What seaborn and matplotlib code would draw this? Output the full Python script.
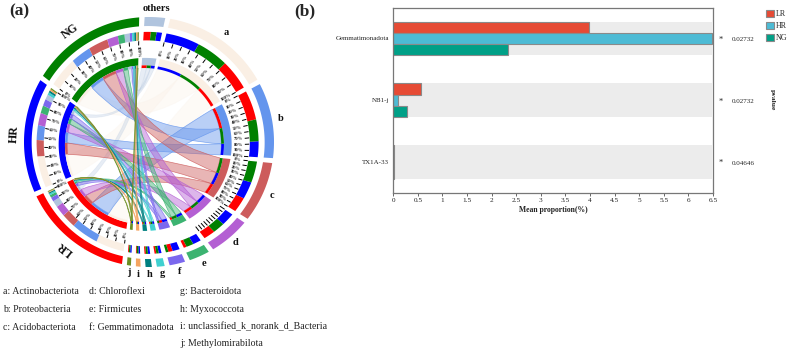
import numpy as np
import pandas as pd
import matplotlib
matplotlib.use("Agg")
import matplotlib.pyplot as plt
from matplotlib.path import Path
from matplotlib.patches import PathPatch
import seaborn as sns

# ---- data: chord panel (percent of each group) ----
phyla = ["others", "a", "b", "c", "d", "e", "f", "g", "h", "i", "j"]
lr_share = [6.5, 28.0, 27.0, 14.0, 10.5, 2.7, 3.97, 1.6, 1.3, 0.8, 0.8]
hr_share = [5.0, 31.0, 14.6, 16.0, 12.0, 7.5, 6.47, 2.5, 2.0, 1.5, 1.3]
ng_share = [5.2, 29.5, 20.0, 19.6, 10.8, 6.5, 2.33, 2.2, 1.8, 1.5, 1.2]
groups = ["LR", "HR", "NG"]
phylum_colors = ["#B0C4DE", "#FAEFE4", "#6495ED", "#CD5C5C", "#B45FD3", "#3CB371",
                 "#7B68EE", "#40D0D0", "#008080", "#F4A460", "#6B8E23"]
group_colors = ["#FF0000", "#0000FF", "#008000"]
legend_col1 = ["a: Actinobacteriota", "b: Proteobacteria", "c: Acidobacteriota"]
legend_col2 = ["d: Chloroflexi", "e: Firmicutes", "f: Gemmatimonadota"]
legend_col3 = ["g: Bacteroidota", "h: Myxococcota", "i: unclassified_k_norank_d_Bacteria",
               "j: Methylomirabilota"]
tick_labels = ["0%", "10%", "20%", "30%", "40%", "50%", "60%", "70%", "80%", "90%", "100%"]

# ---- data: bar panel ----
taxa = ["Gemmatimonadota", "NB1-j", "TX1A-33"]
lr_mean = [3.97, 0.56, 0.01]
hr_mean = [6.47, 0.10, 0.01]
ng_mean = [2.33, 0.27, 0.01]
pvalues = ["0.02732", "0.02732", "0.04646"]
bar_colors = ["#E64B35", "#4DBBD5", "#00A087"]

sns.set_theme(style="white")
plt.rcParams["font.family"] = ["Liberation Serif", "DejaVu Serif"]
fig = plt.figure(figsize=(7.87, 3.52), dpi=100)
W, H = 787, 352

# ---- chord panel ----
ax = fig.add_axes([0, 0, 1, 1])
ax.set_xlim(0, W); ax.set_ylim(H, 0); ax.axis("off")
GAP = 2.3
M = np.array([lr_share, hr_share, ng_share]).T  # rows phyla, columns groups


def xy(theta, r):
    # rings of the reference are not quite concentric: inner ones sit lower-left
    t = np.radians(theta)
    cx = 149.0 - 0.10 * (125.0 - r)
    cy = 142.0 + 0.0625 * (125.0 - r)
    return cx + r * np.sin(t), cy - r * np.cos(t)


def wedge(t0, t1, r0, r1, color, z=3):
    ts = np.linspace(t0, t1, max(int(abs(t1 - t0) * 2), 3))
    xo, yo = xy(ts, r1)
    xi, yi = xy(ts[::-1], r0)
    ax.fill(np.r_[xo, xi], np.r_[yo, yi], color=color, lw=0, zorder=z)


def layout(totals, start, end):
    k = (end - start - GAP * (len(totals) - 1)) / np.sum(totals)
    spans, t = [], start
    for v in totals:
        spans.append((t, t + v * k))
        t += v * k + GAP
    return spans, k


phylum_spans, kp = layout(M.sum(axis=1), -2.0, 190.2)
group_spans, kg = layout(M.sum(axis=0), 192.5, 355.5)

phylum_seg = {}
for i in range(len(phyla)):
    t = phylum_spans[i][0]
    for j in np.argsort(-M[i]):
        phylum_seg[(i, j)] = (t, t + M[i, j] * kp)
        t += M[i, j] * kp
group_seg = {}
for j in range(len(groups)):
    t = group_spans[j][0]
    for i in np.argsort(-M[:, j], kind="stable"):
        group_seg[(i, j)] = (t, t + M[i, j] * kg)
        t += M[i, j] * kg

R_IN, R_THIN, R_BAND = 77.0, 79.5, 86.5
R2_IN, R2_OUT = 103.0, 111.0
R3_IN, R3_OUT = 116.5, 125.0


def ctrl(ta, tb):
    d = abs(ta - tb) % 360
    d = min(d, 360 - d)
    mid = np.degrees(np.arctan2(np.sin(np.radians(ta)) + np.sin(np.radians(tb)),
                                np.cos(np.radians(ta)) + np.cos(np.radians(tb))))
    return xy(mid, R_IN * 0.5 * (1 - d / 180))


for i in [1, 0, 2, 3, 4, 5, 6, 7, 8, 9, 10]:
    for j in range(3):
        a0, a1 = phylum_seg[(i, j)]
        b0, b1 = group_seg[(i, j)]
        verts, codes = [], []
        tsa = np.linspace(a0, a1, 16)
        tsb = np.linspace(b0, b1, 16)
        for n, t in enumerate(tsa):
            verts.append(xy(t, R_IN)); codes.append(Path.MOVETO if n == 0 else Path.LINETO)
        verts += [ctrl(a1, b0), xy(b0, R_IN)]; codes += [Path.CURVE3, Path.CURVE3]
        for t in tsb[1:]:
            verts.append(xy(t, R_IN)); codes.append(Path.LINETO)
        verts += [ctrl(b1, a0), xy(a0, R_IN)]; codes += [Path.CURVE3, Path.CURVE3]
        col = phylum_colors[i]
        alpha = 0.45 if i > 1 else 0.3
        ax.add_patch(PathPatch(Path(verts, codes), facecolor=matplotlib.colors.to_rgba(col, alpha),
                               edgecolor=matplotlib.colors.to_rgba(col, 0.8 if i > 1 else 0.25),
                               lw=0.5, zorder=2))


def ticks(t0, t1, r_tick0, r_tick1, labels=True):
    for n, t in enumerate(np.linspace(t0, t1, 11)):
        x0, y0 = xy(t, r_tick0); x1, y1 = xy(t, r_tick1)
        ax.plot([x0, x1], [y0, y1], color="black", lw=0.7, zorder=3, solid_capstyle="butt")
        if labels:
            xt, yt = xy(t, r_tick0 - 5.5)
            rot = 90 - t if t < 180 else 270 - t
            ax.text(xt, yt, tick_labels[n], fontsize=3.4, rotation=rot, rotation_mode="anchor",
                    ha="center", va="center", color="#222222", fontweight="bold")


for i, name in enumerate(phyla):
    t0, t1 = phylum_spans[i]
    wedge(t0, t1, R3_IN, R3_OUT, phylum_colors[i])
    wedge(t0, t1, R_THIN, R_BAND, phylum_colors[i])
    for j in range(3):
        s0, s1 = phylum_seg[(i, j)]
        wedge(s0, s1, R_IN, R_THIN, group_colors[j])
        wedge(s0, s1, R2_IN, R2_OUT, group_colors[j])
    if name in ("a", "b", "c"):
        ticks(t0, t1, 98.5, 102.5)
    elif name == "d":
        ticks(t0, t1, 96.5, 102.0, labels=False)
    x, y = xy((t0 + t1) / 2, 133)
    ax.text(x, y, name, fontsize=7.5, fontweight="bold", ha="center", va="center", color="#111111")

for j, (name, shift) in enumerate(zip(groups, [0.0, 0.0, -4.5])):
    t0, t1 = group_spans[j]
    wedge(t0, t1, R3_IN, R3_OUT, group_colors[j])
    wedge(t0, t1, R_THIN, R_BAND, group_colors[j])
    for i in range(len(phyla)):
        s0, s1 = group_seg[(i, j)]
        wedge(s0, s1, R_IN, R_THIN, phylum_colors[i])
        wedge(s0, s1, R2_IN, R2_OUT, phylum_colors[i])
    ticks(t0, t1, 98.5, 102.5)
    c = (t0 + t1) / 2 + shift
    x, y = xy(c, 136)
    ax.text(x, y, name, fontsize=8.5, fontweight="bold", rotation=-c, rotation_mode="anchor",
            ha="center", va="center", color="#111111")

ax.text(19, 11.5, "(a)", fontsize=12.5, fontweight="bold", ha="center", va="center")
ax.text(305, 11.5, "(b)", fontsize=12.5, fontweight="bold", ha="center", va="center")

for x0, col in zip([3, 89, 180], [legend_col1, legend_col2, legend_col3]):
    for y0, s in zip([291, 309, 327, 344], col):
        ax.text(x0, y0, s, fontsize=7.1, ha="left", va="center", color="#222222")

# ---- bar panel ----
L, R, T, B = 393.3, 713.0, 7.5, 192.7
bx = fig.add_axes([L / W, 1 - B / H, (R - L) / W, (B - T) / H])
bars = pd.DataFrame({
    "taxon": taxa * 3,
    "group": ["LR"] * 3 + ["HR"] * 3 + ["NG"] * 3,
    "mean": lr_mean + hr_mean + ng_mean,
})
for k in range(len(taxa)):
    bx.axhspan(k - 0.27, k + 0.27, xmax=0.996, color="#ECECEC", lw=0, zorder=0)
sns.barplot(data=bars, x="mean", y="taxon", hue="group", order=taxa, hue_order=groups,
            palette=bar_colors, width=0.54, edgecolor="#8a8a8a", linewidth=0.8,
            orient="h", ax=bx, zorder=2, saturation=1)
bx.set_xlim(0, 6.5)
bx.set_ylim(2.5, -0.5)
xt = np.arange(0, 6.51, 0.5)
bx.set_xticks(xt)
bx.set_xticklabels([f"{v:g}" for v in xt], fontsize=5.2, color="#222222")
bx.tick_params(axis="x", length=2, width=0.7, color="#666666", pad=1.5, bottom=True)
bx.tick_params(axis="y", length=0, labelsize=5.0, pad=2.8, labelcolor="#222222")
bx.set_ylabel("")
bx.set_xlabel("Mean proportion(%)", fontsize=5.5, fontweight="bold", labelpad=2.5, color="#222222")
for s in bx.spines.values():
    s.set_color("#777777"); s.set_linewidth(0.9); s.set_visible(True)
sns.move_legend(bx, "upper left", bbox_to_anchor=(765.5 / W, 1 - 10 / H), bbox_transform=fig.transFigure,
                title=None, frameon=False, fontsize=5.8, handlelength=1.0, handleheight=1.0,
                labelspacing=0.45, handletextpad=0.25, borderpad=0, borderaxespad=0)

for k, p in enumerate(pvalues):
    y = T + (B - T) * (k + 0.5) / 3
    ax.text(720.3, y + 1.5, "*", fontsize=6, ha="center", va="center")
    ax.text(743, y + 1.5, p, fontsize=5.0, ha="center", va="center", color="#222222")
ax.text(772, 100, "pvalue", fontsize=5.4, fontweight="bold", rotation=-90, ha="center", va="center",
        color="#222222")

fig.savefig("out.png", dpi=100)
